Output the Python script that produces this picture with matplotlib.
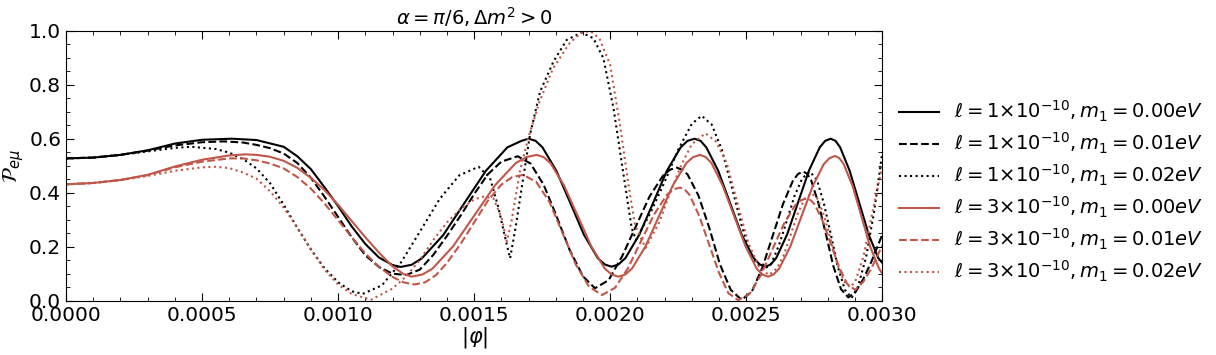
import matplotlib
matplotlib.use('Agg')
import matplotlib.pyplot as plt
from matplotlib.ticker import MultipleLocator

# values
# l = 1e-10, m1 = 0.00 eV (black solid)
x_a = [0, 0.0001, 0.0002, 0.0003, 0.0004, 0.0005, 0.00061, 0.0007, 0.0008, 0.00085,
       0.0009, 0.00095, 0.001, 0.00105, 0.0011, 0.00115, 0.0012, 0.00123, 0.00127, 0.001308,
       0.001387, 0.001465, 0.001543, 0.001622, 0.001674, 0.0017, 0.001726, 0.001751, 0.001802, 0.001853,
       0.001903, 0.001954, 0.00198, 0.002005, 0.00203, 0.002056, 0.002107, 0.002158, 0.002208, 0.002259,
       0.002284, 0.00231, 0.002332, 0.002353, 0.002397, 0.00244, 0.002483, 0.002527, 0.00255, 0.00257,
       0.00259, 0.00261, 0.00265, 0.00269, 0.00273, 0.00277, 0.00279, 0.00281, 0.002828, 0.002845,
       0.00288, 0.002915, 0.00295, 0.002985, 0.003]
y_a = [0.527, 0.530, 0.540, 0.557, 0.582, 0.596, 0.600, 0.595, 0.570, 0.535,
       0.487, 0.420, 0.350, 0.275, 0.210, 0.160, 0.132, 0.125, 0.133, 0.157,
       0.244, 0.363, 0.481, 0.568, 0.592, 0.600, 0.592, 0.568, 0.481, 0.363,
       0.245, 0.158, 0.134, 0.126, 0.134, 0.158, 0.245, 0.363, 0.481, 0.568,
       0.592, 0.600, 0.592, 0.568, 0.481, 0.363, 0.245, 0.158, 0.134, 0.126,
       0.134, 0.158, 0.245, 0.363, 0.481, 0.568, 0.592, 0.600, 0.592, 0.568,
       0.481, 0.363, 0.245, 0.158, 0.140]

# l = 1e-10, m1 = 0.01 eV (black dashed)
x_b = [0, 0.0001, 0.0002, 0.0003, 0.0004, 0.0005, 0.00058, 0.00065, 0.0007, 0.00075,
       0.0008, 0.00085, 0.0009, 0.00095, 0.001, 0.00105, 0.0011, 0.00115, 0.0012, 0.00125,
       0.0013, 0.00135, 0.0014, 0.00145, 0.0015, 0.00155, 0.0016, 0.00166, 0.001707, 0.001755,
       0.0018, 0.00185, 0.0019, 0.001944, 0.001994, 0.002044, 0.002094, 0.002144, 0.002194, 0.002219,
       0.002244, 0.002264, 0.002284, 0.002324, 0.002364, 0.002403, 0.002443, 0.002483, 0.002521, 0.002559,
       0.002597, 0.002635, 0.002672, 0.002691, 0.00271, 0.002724, 0.002738, 0.002765, 0.002793, 0.00282,
       0.002848, 0.002875, 0.0029, 0.00293, 0.00296, 0.003]
y_b = [0.527, 0.530, 0.540, 0.556, 0.575, 0.587, 0.590, 0.586, 0.577, 0.565,
       0.545, 0.510, 0.455, 0.385, 0.310, 0.235, 0.168, 0.125, 0.100, 0.095,
       0.115, 0.170, 0.240, 0.315, 0.395, 0.468, 0.515, 0.535, 0.508, 0.430,
       0.320, 0.190, 0.090, 0.046, 0.076, 0.165, 0.275, 0.385, 0.463, 0.485,
       0.493, 0.485, 0.468, 0.390, 0.270, 0.135, 0.040, 0.003, 0.035, 0.122,
       0.240, 0.358, 0.446, 0.470, 0.478, 0.470, 0.447, 0.362, 0.245, 0.128,
       0.043, 0.012, 0.030, 0.080, 0.145, 0.245]

# l = 1e-10, m1 = 0.02 eV (black dotted)
x_c = [0, 0.0001, 0.0002, 0.0003, 0.0004, 0.00046, 0.00055, 0.0006, 0.00065, 0.0007,
       0.00075, 0.0008, 0.00085, 0.0009, 0.00095, 0.001, 0.00105, 0.00109, 0.001161, 0.001232,
       0.001303, 0.001374, 0.001445, 0.001516, 0.001558, 0.001589, 0.001613, 0.001632, 0.001652, 0.001675,
       0.001705, 0.001742, 0.001791, 0.00184, 0.001895, 0.001938, 0.001975, 0.002012, 0.002049, 0.002079,
       0.002095, 0.00215, 0.0022, 0.00225, 0.0023, 0.002336, 0.002373, 0.00241, 0.002447, 0.002484,
       0.002521, 0.002563, 0.002592, 0.00262, 0.002649, 0.002677, 0.002706, 0.002734, 0.00276, 0.002785,
       0.002811, 0.002836, 0.002862, 0.002887, 0.00291, 0.00294, 0.00297, 0.003]
y_c = [0.527, 0.530, 0.540, 0.553, 0.566, 0.570, 0.562, 0.548, 0.525, 0.490,
       0.435, 0.355, 0.270, 0.190, 0.120, 0.068, 0.035, 0.025, 0.057, 0.143,
       0.260, 0.378, 0.464, 0.496, 0.455, 0.345, 0.237, 0.157, 0.270, 0.420,
       0.614, 0.774, 0.885, 0.966, 0.993, 0.972, 0.898, 0.713, 0.466, 0.268,
       0.225, 0.330, 0.440, 0.560, 0.655, 0.685, 0.652, 0.560, 0.420, 0.275,
       0.160, 0.114, 0.138, 0.205, 0.296, 0.387, 0.454, 0.478, 0.447, 0.361,
       0.244, 0.127, 0.041, 0.010, 0.050, 0.160, 0.330, 0.550]

# l = 3e-10, m1 = 0.00 eV (red solid)
x_d = [0, 0.0001, 0.0002, 0.0003, 0.0004, 0.0005, 0.0006, 0.00066, 0.0007, 0.00075,
       0.0008, 0.00085, 0.0009, 0.00095, 0.001, 0.00105, 0.0011, 0.00115, 0.0012, 0.00124,
       0.00127, 0.00131, 0.001347, 0.001423, 0.0015, 0.001577, 0.001653, 0.001692, 0.00173, 0.001755,
       0.00178, 0.00183, 0.00188, 0.00193, 0.00198, 0.002005, 0.00203, 0.002055, 0.00208, 0.00213,
       0.00218, 0.00223, 0.00228, 0.002305, 0.00233, 0.002351, 0.002372, 0.002413, 0.002455, 0.002497,
       0.002538, 0.002559, 0.00258, 0.0026, 0.002621, 0.002662, 0.002703, 0.002744, 0.002785, 0.002806,
       0.002826, 0.002842, 0.002858, 0.002891, 0.002923, 0.002955, 0.002988, 0.003]
y_d = [0.431, 0.436, 0.447, 0.466, 0.497, 0.522, 0.538, 0.542, 0.540, 0.533,
       0.518, 0.492, 0.455, 0.410, 0.355, 0.295, 0.235, 0.178, 0.127, 0.099,
       0.089, 0.097, 0.119, 0.202, 0.315, 0.428, 0.510, 0.532, 0.540, 0.532,
       0.510, 0.427, 0.315, 0.202, 0.119, 0.097, 0.089, 0.097, 0.119, 0.202,
       0.315, 0.427, 0.510, 0.532, 0.540, 0.532, 0.510, 0.427, 0.315, 0.202,
       0.119, 0.097, 0.089, 0.097, 0.119, 0.201, 0.313, 0.424, 0.506, 0.528,
       0.536, 0.528, 0.506, 0.424, 0.313, 0.201, 0.119, 0.100]

# l = 3e-10, m1 = 0.01 eV (red dashed)
x_e = [0, 0.0001, 0.0002, 0.0003, 0.0004, 0.0005, 0.0006, 0.00065, 0.0007, 0.00075,
       0.0008, 0.00085, 0.0009, 0.00095, 0.001, 0.00105, 0.0011, 0.00115, 0.0012, 0.00124,
       0.00128, 0.00132, 0.00136, 0.0014, 0.00145, 0.0015, 0.00155, 0.0016, 0.00164, 0.00168,
       0.001728, 0.001777, 0.001825, 0.001873, 0.001922, 0.00197, 0.002018, 0.002065, 0.002113, 0.002161,
       0.002208, 0.002232, 0.002256, 0.002274, 0.002292, 0.002327, 0.002363, 0.002399, 0.002434, 0.00247,
       0.002512, 0.002554, 0.002596, 0.002638, 0.00268, 0.002701, 0.002722, 0.002737, 0.002752, 0.002781,
       0.002811, 0.002841, 0.00287, 0.0029, 0.00293, 0.00296, 0.003]
y_e = [0.431, 0.436, 0.447, 0.465, 0.494, 0.515, 0.527, 0.527, 0.520, 0.508,
       0.490, 0.458, 0.415, 0.360, 0.298, 0.235, 0.175, 0.125, 0.088, 0.068,
       0.060, 0.068, 0.095, 0.140, 0.210, 0.290, 0.370, 0.430, 0.458, 0.466,
       0.440, 0.365, 0.250, 0.135, 0.052, 0.021, 0.048, 0.120, 0.220, 0.319,
       0.392, 0.412, 0.419, 0.412, 0.391, 0.314, 0.210, 0.105, 0.028, 0.002,
       0.025, 0.095, 0.190, 0.284, 0.354, 0.372, 0.379, 0.372, 0.356, 0.294,
       0.210, 0.125, 0.063, 0.040, 0.070, 0.120, 0.205]

# l = 3e-10, m1 = 0.02 eV (red dotted)
x_f = [0, 0.0001, 0.0002, 0.0003, 0.0004, 0.0005, 0.00055, 0.0006, 0.00065, 0.0007,
       0.00075, 0.0008, 0.00085, 0.0009, 0.00095, 0.001, 0.00105, 0.00112, 0.0012, 0.00125,
       0.0013, 0.00135, 0.0014, 0.00145, 0.0015, 0.00153, 0.00157, 0.0016, 0.00162, 0.001638,
       0.001669, 0.0017, 0.00174, 0.00179, 0.00185, 0.00189, 0.001926, 0.00196, 0.002, 0.002036,
       0.002067, 0.002091, 0.00213, 0.00218, 0.00222, 0.00226, 0.0023, 0.00235, 0.002388, 0.002428,
       0.002468, 0.002507, 0.002547, 0.002583, 0.002613, 0.002638, 0.002664, 0.002689, 0.002715, 0.00274,
       0.002764, 0.002787, 0.002811, 0.002834, 0.002858, 0.002881, 0.0029, 0.00293, 0.00296, 0.003]
y_f = [0.431, 0.436, 0.447, 0.462, 0.481, 0.494, 0.496, 0.491, 0.475, 0.452,
       0.405, 0.345, 0.270, 0.190, 0.115, 0.060, 0.025, 0.003, 0.045, 0.090,
       0.150, 0.225, 0.290, 0.340, 0.375, 0.385, 0.380, 0.310, 0.220, 0.299,
       0.484, 0.607, 0.737, 0.861, 0.953, 0.990, 1.000, 0.972, 0.873, 0.650,
       0.430, 0.280, 0.195, 0.290, 0.400, 0.500, 0.580, 0.620, 0.590, 0.510,
       0.360, 0.215, 0.125, 0.095, 0.120, 0.170, 0.246, 0.322, 0.378, 0.398,
       0.375, 0.311, 0.224, 0.137, 0.073, 0.050, 0.070, 0.160, 0.310, 0.500]

labels = [r'$\ell=1{\times}10^{-10},m_1=0.00eV$',
          r'$\ell=1{\times}10^{-10},m_1=0.01eV$',
          r'$\ell=1{\times}10^{-10},m_1=0.02eV$',
          r'$\ell=3{\times}10^{-10},m_1=0.00eV$',
          r'$\ell=3{\times}10^{-10},m_1=0.01eV$',
          r'$\ell=3{\times}10^{-10},m_1=0.02eV$']

red = '#c0574a'

fig = plt.figure(figsize=(12.16, 3.55), dpi=100)
ax = fig.add_axes([0.0543, 0.153, 0.6713, 0.7605])

ax.plot(x_a, y_a, color='black', ls='-', lw=1.5, label=labels[0])
ax.plot(x_b, y_b, color='black', ls='--', lw=1.5, label=labels[1])
ax.plot(x_c, y_c, color='black', ls=':', lw=1.5, label=labels[2])
ax.plot(x_d, y_d, color=red, ls='-', lw=1.5, label=labels[3])
ax.plot(x_e, y_e, color=red, ls='--', lw=1.5, label=labels[4])
ax.plot(x_f, y_f, color=red, ls=':', lw=1.5, label=labels[5])

ax.set_xlim(0, 0.003)
ax.set_ylim(0, 1.0)
ax.xaxis.set_major_locator(MultipleLocator(0.0005))
ax.xaxis.set_minor_locator(MultipleLocator(0.0001))
ax.yaxis.set_major_locator(MultipleLocator(0.2))
ax.yaxis.set_minor_locator(MultipleLocator(0.05))
ax.xaxis.set_major_formatter(plt.FuncFormatter(lambda v, p: f'{v:.4f}'))
ax.yaxis.set_major_formatter(plt.FuncFormatter(lambda v, p: f'{v:.1f}'))
ax.tick_params(which='both', direction='in', top=True, right=True, labelsize=14.5)
ax.tick_params(which='major', length=6)
ax.tick_params(which='minor', length=3)

ax.set_title(r'$\alpha=\pi/6,\Delta m^2>0$', fontsize=14, pad=4)
ax.set_xlabel(r'$|\varphi|$', fontsize=15, labelpad=0)
ax.set_ylabel(r'$\mathcal{P}_{e\mu}$', fontsize=15, labelpad=2)

ax.legend(loc='center left', bbox_to_anchor=(1.011, 0.404), frameon=False,
          fontsize=14, handlelength=2.05, handletextpad=0.77, labelspacing=0.35,
          borderaxespad=0)

fig.savefig('out.png', dpi=100)
